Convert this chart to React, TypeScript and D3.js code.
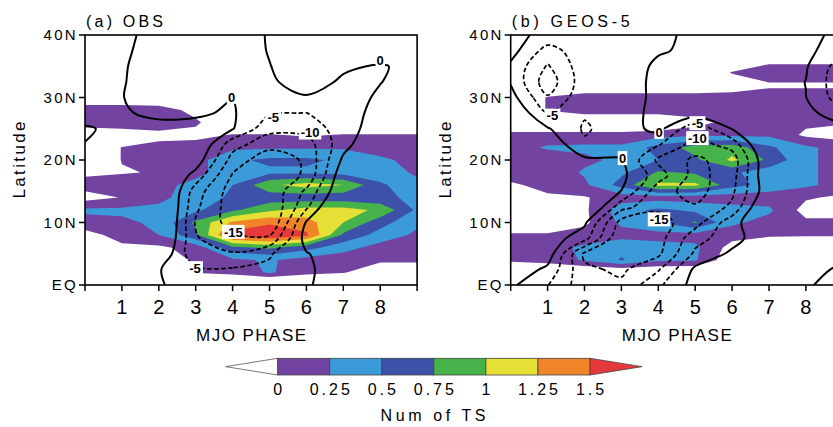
import React from "react";
import * as d3 from "d3";

const W = 833;
const H = 427;
const TOP = 35;
const BOTTOM = 285;
const UNIT = 36.9; // px per MJO phase
const FONT = "'Liberation Sans', Arial, sans-serif";

const phaseTicks = [0, 1, 2, 3, 4, 5, 6, 7, 8, 9];
const phaseLabels = [1, 2, 3, 4, 5, 6, 7, 8];
const latTicks = [0, 10, 20, 30, 40];
const latLabels = ["EQ", "10N", "20N", "30N", "40N"];

// shading: Num of TS
const shadeLevels = [0, 0.25, 0.5, 0.75, 1, 1.25, 1.5];
const shadeColors = ["#7243a1", "#3b9bd9", "#3d51a9", "#46b34a", "#e5e035", "#ef8429", "#e6393b"];
const cbLabels = ["0", "0.25", "0.5", "0.75", "1", "1.25", "1.5"];
// line contours
const lineLevels = [-15, -10, -5, 0];

// grids: columns = MJO phase 0..9, rows = latitude from 40N down to EQ
// shading rows every 2 deg
const obsShade = [
  [-0.3, -0.3, -0.3, -0.3, -0.3, -0.3, -0.3, -0.3, -0.3, -0.3],
  [-0.3, -0.3, -0.3, -0.3, -0.3, -0.3, -0.3, -0.3, -0.3, -0.3],
  [-0.3, -0.3, -0.3, -0.3, -0.3, -0.3, -0.3, -0.3, -0.3, -0.3],
  [-0.3, -0.3, -0.3, -0.3, -0.3, -0.3, -0.3, -0.3, -0.3, -0.3],
  [-0.3, -0.3, -0.3, -0.3, -0.3, -0.3, -0.3, -0.3, -0.3, -0.3],
  [-0.3, -0.3, -0.3, -0.3, -0.3, -0.3, -0.3, -0.3, -0.3, -0.3],
  [0.2, 0.2, 0.15, -0.1, -0.3, -0.3, -0.3, -0.3, -0.3, -0.3],
  [0.2, 0.2, 0.2, 0.05, -0.3, -0.3, -0.3, -0.3, -0.3, -0.3],
  [-0.3, -0.2, -0.1, -0.1, 0.02, 0.02, -0.03, 0.02, 0.02, 0.02],
  [-0.3, 0.01, 0.1, 0.15, 0.2, 0.22, 0.22, 0.22, 0.18, 0.15],
  [-0.3, 0.01, 0.1, 0.15, 0.45, 0.55, 0.55, 0.45, 0.28, 0.2],
  [-0.05, -0.02, 0.02, 0.2, 0.35, 0.45, 0.45, 0.4, 0.35, 0.22],
  [0.1, 0.15, 0.2, 0.3, 0.5, 0.95, 1.1, 1.0, 0.55, 0.3],
  [-0.1, 0.01, 0.2, 0.35, 0.55, 0.6, 0.6, 0.6, 0.55, 0.45],
  [0.3, 0.3, 0.3, 0.45, 0.7, 0.95, 1.1, 1.1, 0.95, 0.45],
  [0.15, 0.2, 0.3, 0.8, 1.3, 1.45, 1.35, 1.0, 0.6, 0.3],
  [-0.1, 0.1, 0.25, 0.7, 1.6, 1.75, 1.55, 0.7, 0.4, 0.2],
  [-0.3, -0.05, -0.05, 0.1, 0.7, 0.8, 0.6, 0.35, 0.15, 0.15],
  [-0.3, -0.3, -0.2, 0.05, 0.2, 0.28, 0.15, 0.1, 0.05, 0.05],
  [-0.3, -0.3, -0.3, 0.02, 0.1, 0.28, 0.1, 0.02, -0.2, -0.2],
  [-0.3, -0.3, -0.3, -0.5, -0.5, -0.5, -0.5, -0.5, -0.3, -0.3],
];

const geosShade = [
  [-0.3, -0.3, -0.3, -0.3, -0.3, -0.3, -0.3, -0.3, -0.3, -0.3],
  [-0.3, -0.3, -0.3, -0.3, -0.3, -0.3, -0.3, -0.3, -0.3, -0.3],
  [-0.3, -0.3, -0.3, -0.3, -0.3, -0.3, -0.3, -0.1, -0.1, -0.1],
  [-0.3, -0.3, -0.3, -0.3, -0.3, -0.3, 0.02, 0.2, 0.2, 0.2],
  [-0.3, -0.3, -0.3, -0.3, -0.3, -0.3, -0.2, -0.05, -0.05, -0.05],
  [-0.3, 0.02, 0.15, 0.15, 0.15, 0.15, 0.15, 0.15, 0.15, 0.15],
  [-0.3, 0.02, 0.15, 0.15, 0.15, 0.15, 0.15, 0.15, 0.15, 0.15],
  [-0.3, -0.3, -0.3, -0.3, -0.3, -0.1, 0.1, 0.1, 0.05, 0.02],
  [0.1, 0.1, 0.1, 0.1, 0.15, 0.2, 0.2, 0.2, -0.05, -0.1],
  [0.15, 0.28, 0.3, 0.3, 0.6, 0.85, 0.9, 0.55, 0.3, 0.15],
  [0.1, 0.1, 0.2, 0.3, 0.5, 0.7, 1.05, 0.7, 0.3, 0.15],
  [0.15, 0.1, 0.28, 0.45, 0.78, 0.72, 0.55, 0.35, 0.3, 0.15],
  [-0.05, 0.1, 0.2, 0.6, 1.05, 1.05, 0.6, 0.4, 0.3, 0.15],
  [-0.3, -0.05, -0.02, 0.12, 0.15, 0.12, 0.12, 0.12, 0.03, -0.05],
  [-0.3, -0.3, -0.05, 0.4, 0.55, 0.45, 0.35, 0.3, -0.1, -0.1],
  [-0.3, -0.3, -0.05, 0.3, 0.5, 0.78, 0.3, 0.15, 0.05, 0.05],
  [0.05, 0.05, 0.1, 0.15, 0.15, 0.15, 0.1, 0.05, 0.03, 0.03],
  [0.1, 0.15, 0.3, 0.45, 0.35, 0.3, -0.1, -0.3, -0.3, -0.3],
  [0.05, 0.1, 0.28, 0.52, 0.3, 0.28, -0.2, -0.3, -0.3, -0.3],
  [-0.3, -0.3, -0.3, -0.3, -0.3, -0.3, -0.3, -0.3, -0.3, -0.3],
  [-0.3, -0.3, -0.3, -0.3, -0.3, -0.3, -0.3, -0.3, -0.3, -0.3],
];

// contour field, rows every 2.5 deg
const obsLines = [
  [2, 1, -1.5, -2, -2, 0.3, 2, 3, 3, 2],
  [2, 0.8, -2, -2.5, -2, 0.2, 2, 3, 3, 2],
  [2, 0.5, -2.5, -3, -2.5, -0.1, 2, 0.5, -0.3, 1],
  [2, 0.3, -2.2, -3, -2.5, -0.5, 1.5, -0.5, -0.1, 1.5],
  [2, 0.1, -1.5, -1, -0.1, -1, -0.3, -1.5, 0.5, 2],
  [2, 0.5, -1, -0.5, 0.5, -4.6, -5.1, -2, 1.5, 2],
  [-0.5, 1.2, 1.5, 1.2, 0.3, -8.5, -8, -2.5, 3, 2],
  [0.1, 1.5, 1.5, 6, -8, -13, -12.4, -1.8, 5.5, 2],
  [2, 2, 3, 3, -12, -18.5, -14.1, 1, 4, 2],
  [3, 4, 8, -2, -15.5, -19, -14.1, 4, 4, 2],
  [3, 5, 10, -7.5, -17.5, -19, -9, 5, 4, 2],
  [3, 5, 10, -9, -17.8, -20, -6, 10, 5, 2],
  [3, 5, 10, -10.5, -17, -20, 0.5, 10, 5, 3],
  [3, 4, 8, -9.5, -14, -14, 2, 8, 4, 3],
  [3, 4, 5, -9, -9.5, -5.5, -0.3, 3, 4, 3],
  [3, 3, 0.3, -4, -4.5, -4, -0.6, 2, 3, 3],
  [3, 3, 0.5, -2.5, -3, -3, -0.4, 2, 3, 3],
];

const geosLines = [
  [1.5, -1.4, -2, -2, -1, 1, 3, 3, 1, -1],
  [2, -7, -2, -2, -0.5, 1, 3, 2, 1, -2.5],
  [-1, -10.5, -2, -3, 1, 3, 3, 3, 0.5, -8],
  [-0.5, -13, -2, -2, 1, 3, 3, 3, -0.1, -9],
  [2, -9.5, -1.7, -2, 1, 3, 3, 3, 0.1, -8],
  [5, -4.9, -4.5, -1.8, 1.2, 3, 3, 3, 2, -4],
  [5, 0.5, -5.6, -2.5, 1.5, -9, 0.2, 3, 3, 2],
  [4, 4, -4.3, -3, -4.5, -12, -8, 8, 3, 2],
  [4, 4, 1, 0.5, -11, -16, -12.7, 5.3, 3, 2],
  [4, 4, 4, 1.36, -7.7, -17, -12, 5, 3, 2],
  [4, 4, 4, -0.1, -13, -17, -11, 4, 3, 2],
  [4, 4, 8, -8, -14, -14.5, -9, 8, 3, 2],
  [4, 4, 1, -17, -17, -12, -2, 6, 3, 2],
  [4, 3, -3, -20, -17, -7, -2, 4, 3, 2],
  [4, 3, -16, -18, -16, -4, 1, 3, 3, 2],
  [4, -1.2, -14, -16, -10.5, 1, 3, 3, 2, -1],
  [1, -4.8, -13, -14, -6, 2, 3, 3, 0.7, -2.5],
];

// contour labels (phase, latitude)
const obsLabels = [
  { t: "0", p: 8.0, lat: 36.0 },
  { t: "0", p: 3.97, lat: 30.1 },
  { t: "-5", p: 5.1, lat: 26.9 },
  { t: "-10", p: 6.1, lat: 24.4 },
  { t: "-15", p: 4.02, lat: 8.5 },
  { t: "-5", p: 2.98, lat: 2.7 },
];
const geosLabels = [
  { t: "-5", p: 1.13, lat: 27.1 },
  { t: "0", p: 4.02, lat: 24.5 },
  { t: "-5", p: 5.06, lat: 25.9 },
  { t: "-10", p: 5.06, lat: 23.5 },
  { t: "0", p: 3.03, lat: 20.3 },
  { t: "-15", p: 4.02, lat: 10.5 },
];

function Panel({ id, left, title, titleWidth, latX, shade, lines, labels }: any) {
  const x = d3.scaleLinear().domain([0, 9]).range([left, left + 9 * UNIT]);
  const y = d3.scaleLinear().domain([0, 40]).range([BOTTOM, TOP]);

  // filled contours
  const sRows = shade.length;
  const sCols = shade[0].length;
  const sStep = 40 / (sRows - 1);
  const bands = d3.contours().size([sCols, sRows]).thresholds(shadeLevels)(shade.flat());
  const shadePath = d3.geoPath(
    d3.geoTransform({
      point(px: number, py: number) {
        (this as any).stream.point(x(px - 0.5), y(40 - (py - 0.5) * sStep));
      },
    })
  );

  // line contours, edges of the grid cut away
  const lRows = lines.length;
  const lCols = lines[0].length;
  const lStep = 40 / (lRows - 1);
  const isos = d3.contours().size([lCols, lRows]).thresholds(lineLevels)(lines.flat());
  const toPx = (p: number[]) => [x(p[0] - 0.5), y(40 - (p[1] - 0.5) * lStep)] as [number, number];
  const onEdge = (p: number[]) => p[0] <= 0 || p[0] >= lCols || p[1] <= 0 || p[1] >= lRows;
  const openLine = d3.line().curve(d3.curveCatmullRom.alpha(0.5));
  const closedLine = d3.line().curve(d3.curveCatmullRomClosed.alpha(0.5));
  const paths: { v: number; d: string }[] = [];
  isos.forEach((iso) => {
    iso.coordinates.forEach((poly) =>
      poly.forEach((ring0) => {
        const ring = ring0.slice(0, -1);
        const start = ring.findIndex(onEdge);
        if (start < 0) {
          paths.push({ v: iso.value, d: closedLine(ring.map(toPx)) as string });
          return;
        }
        let run: number[][] = [];
        for (let k = 1; k <= ring.length; k++) {
          const p = ring[(start + k) % ring.length];
          if (onEdge(p)) {
            if (run.length > 1) paths.push({ v: iso.value, d: openLine(run.map(toPx)) as string });
            run = [];
          } else run.push(p);
        }
      })
    );
  });

  const x0 = x(0);
  const x9 = x(9);
  return (
    <g>
      <defs>
        <clipPath id={id}>
          <rect x={x0} y={TOP} width={x9 - x0} height={BOTTOM - TOP} />
        </clipPath>
      </defs>
      <g clipPath={`url(#${id})`}>
        {bands.map((b, i) => (
          <path key={i} d={shadePath(b as any) || ""} fill={shadeColors[i]} fillRule="evenodd" />
        ))}
        {paths.map((p, i) => (
          <path
            key={i}
            d={p.d}
            fill="none"
            stroke="#000"
            strokeWidth={p.v < 0 ? 1.7 : 2}
            strokeDasharray={p.v < 0 ? "4.5 2.5" : undefined}
            strokeLinejoin="round"
          />
        ))}
        {labels.map((l: any, i: number) => {
          const w = l.t.length * 6.5 + 3;
          return (
            <g key={i} transform={`translate(${x(l.p)},${y(l.lat)})`}>
              <rect x={-w / 2} y={-7} width={w} height={14} fill="#fff" />
              <text textAnchor="middle" dy="0.36em" fontSize={13} fontWeight="bold" fontFamily={FONT}>
                {l.t}
              </text>
            </g>
          );
        })}
      </g>
      <rect x={x0} y={TOP} width={x9 - x0} height={BOTTOM - TOP} fill="none" stroke="#000" strokeWidth={1.6} />
      {phaseTicks.map((t) => (
        <line key={t} x1={x(t)} x2={x(t)} y1={BOTTOM} y2={BOTTOM + 6} stroke="#000" strokeWidth={1.5} />
      ))}
      {phaseLabels.map((t) => (
        <text key={t} x={x(t)} y={314} textAnchor="middle" fontSize={20} fontFamily={FONT}>
          {t}
        </text>
      ))}
      {latTicks.map((t, i) => (
        <g key={t}>
          <line x1={x0 - 6} x2={x0} y1={y(t)} y2={y(t)} stroke="#000" strokeWidth={1.5} />
          <text x={x0 - 7} y={y(t)} dy="0.36em" textAnchor="end" fontSize={15} letterSpacing={2.3} fontFamily={FONT}>
            {latLabels[i]}
          </text>
        </g>
      ))}
      <text x={x0 + 1} y={26.5} fontSize={16} fontFamily={FONT} textLength={titleWidth} lengthAdjust="spacing">
        {title}
      </text>
      <text x={(x0 + x9) / 2} y={341} textAnchor="middle" fontSize={17} fontFamily={FONT} textLength={110} lengthAdjust="spacing">
        MJO PHASE
      </text>
      <text
        transform={`translate(${latX},160) rotate(-90)`}
        textAnchor="middle"
        fontSize={17}
        fontFamily={FONT}
        textLength={77}
        lengthAdjust="spacing"
      >
        Latitude
      </text>
    </g>
  );
}

function ColorBar() {
  const cx = d3.scaleLinear().domain([0, 1.5]).range([277.7, 590]);
  const top = 358.3;
  const bot = 375;
  const mid = (top + bot) / 2;
  const step = shadeLevels[1] - shadeLevels[0];
  const first = shadeLevels[0];
  const last = shadeLevels[shadeLevels.length - 1];
  return (
    <g>
      <polygon
        points={`${cx(first - step)},${mid} ${cx(first)},${top} ${cx(first)},${bot}`}
        fill="#fff"
        stroke="#555"
        strokeWidth={0.8}
      />
      {shadeLevels.slice(0, -1).map((v, i) => (
        <rect key={v} x={cx(v)} y={top} width={cx(shadeLevels[i + 1]) - cx(v)} height={bot - top} fill={shadeColors[i]} stroke="#444" strokeWidth={0.8} />
      ))}
      <polygon
        points={`${cx(last)},${top} ${cx(last + step)},${mid} ${cx(last)},${bot}`}
        fill={shadeColors[shadeColors.length - 1]}
        stroke="#444"
        strokeWidth={0.8}
      />
      {shadeLevels.map((v, i) => (
        <text key={v} x={cx(v) + 1.5} y={395} textAnchor="middle" fontSize={16} letterSpacing={3} fontFamily={FONT}>
          {cbLabels[i]}
        </text>
      ))}
      <text x={433} y={421} textAnchor="middle" fontSize={16} fontFamily={FONT} textLength={105} lengthAdjust="spacing">
        Num of TS
      </text>
    </g>
  );
}

export default function App() {
  return (
    <svg width={W} height={H} style={{ position: "absolute", left: 0, top: 0, background: "#fff" }}>
      <rect width={W} height={H} fill="#fff" />
      <Panel id="clipA" left={85} title="(a) OBS" titleWidth={77} latX={25} shade={obsShade} lines={obsLines} labels={obsLabels} />
      <Panel id="clipB" left={510.7} title="(b) GEOS-5" titleWidth={118} latX={451} shade={geosShade} lines={geosLines} labels={geosLabels} />
      <ColorBar />
    </svg>
  );
}
